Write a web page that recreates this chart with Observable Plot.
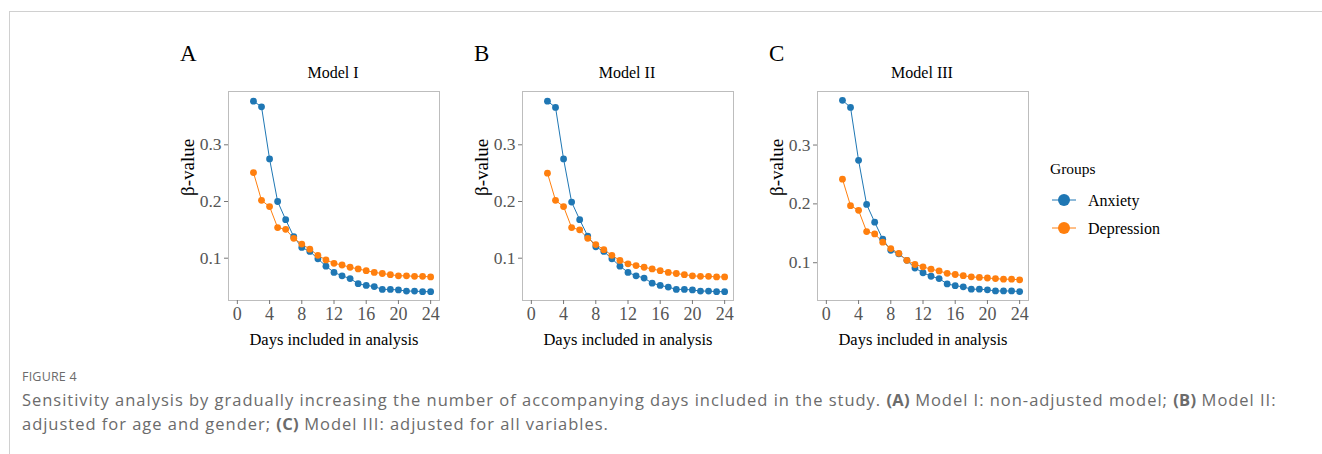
<!DOCTYPE html>
<html>
<head>
<meta charset="utf-8">
<script src="https://cdn.jsdelivr.net/npm/d3@7"></script>
<script src="https://cdn.jsdelivr.net/npm/@observablehq/plot@0.6"></script>
<style>
  html, body { margin: 0; padding: 0; background: #fff; }
  body { width: 1322px; height: 454px; position: relative; overflow: hidden; }
  .border-top { position: absolute; left: 9px; top: 11px; width: 1313px; height: 0; border-top: 1px solid #d0d0d0; }
  .border-left { position: absolute; left: 9px; top: 11px; width: 0; height: 443px; border-left: 1px solid #d0d0d0; }
  .panel { position: absolute; }
  .letter { position: absolute; font-family: "Liberation Serif", "Times New Roman", serif; font-size: 23px; color: #000; }
  .title { position: absolute; font-family: "Liberation Serif", "Times New Roman", serif; font-size: 16px; color: #000; text-align: center; width: 210px; }
  .legend { position: absolute; left: 1048px; top: 158px; font-family: "Liberation Serif", "Times New Roman", serif; color: #000; }
  .caption { position: absolute; left: 22px; top: 368px; font-family: "Open Sans", "Noto Sans", sans-serif; color: #6b6b6b; white-space: nowrap; }
  .fig { font-size: 12.5px; line-height: 18px; letter-spacing: 0.2px; }
  .cap { font-size: 16.5px; line-height: 24px; margin-top: 2px; letter-spacing: 0.98px; }
  .cap b { font-weight: 700; color: #6b6b6b; letter-spacing: 0.3px; }
</style>
</head>
<body>
<div class="border-top"></div>
<div class="border-left"></div>
<div id="root"></div>
<div class="legend" id="legend"></div>
<div class="caption">
  <div class="fig">FIGURE 4</div>
  <div class="cap">Sensitivity analysis by gradually increasing the number of accompanying days included in the study. <b>(A)</b> Model I: non-adjusted model; <b>(B)</b> Model II:<br>adjusted for age and gender; <b>(C)</b> Model III: adjusted for all variables.</div>
</div>
<script>
const days = [2,3,4,5,6,7,8,9,10,11,12,13,14,15,16,17,18,19,20,21,22,23,24];
const groups = ["Anxiety", "Depression"];
const colors = ["#1f77b4", "#ff7f0e"];
const panelLetters = ["A", "B", "C"];
const panelTitles = ["Model I", "Model II", "Model III"];
const xTicks = [0,4,8,12,16,20,24];
const yTicks = [0.1, 0.2, 0.3];

const anxietyA = [0.377,0.367,0.275,0.200,0.168,0.138,0.119,0.112,0.099,0.086,0.075,0.069,0.064,0.055,0.052,0.050,0.045,0.045,0.044,0.042,0.042,0.041,0.041];
const depressionA = [0.251,0.202,0.191,0.154,0.151,0.135,0.125,0.116,0.105,0.097,0.091,0.088,0.084,0.081,0.078,0.075,0.073,0.071,0.069,0.069,0.068,0.068,0.067];
const anxietyB = [0.377,0.366,0.275,0.199,0.168,0.139,0.120,0.112,0.099,0.086,0.075,0.069,0.065,0.056,0.052,0.049,0.045,0.045,0.044,0.042,0.042,0.041,0.041];
const depressionB = [0.250,0.202,0.191,0.154,0.150,0.135,0.124,0.115,0.105,0.096,0.090,0.087,0.084,0.081,0.078,0.075,0.073,0.071,0.069,0.068,0.068,0.067,0.067];
const anxietyC = [0.376,0.364,0.274,0.199,0.169,0.140,0.121,0.115,0.104,0.091,0.083,0.077,0.073,0.064,0.061,0.059,0.055,0.055,0.054,0.052,0.052,0.052,0.051];
const depressionC = [0.242,0.197,0.189,0.153,0.149,0.135,0.124,0.116,0.104,0.097,0.093,0.089,0.086,0.082,0.080,0.078,0.076,0.075,0.074,0.073,0.072,0.072,0.071];

const panels = [
  {anx: anxietyA, dep: depressionA, left: 170, yDomain: [0.0254, 0.394]},
  {anx: anxietyB, dep: depressionB, left: 464, yDomain: [0.0254, 0.394]},
  {anx: anxietyC, dep: depressionC, left: 759, yDomain: [0.0358, 0.391]}
];

const root = document.getElementById("root");
const serif = '"Liberation Serif", "Times New Roman", serif';
const mL = 58, mT = 10, fw = 211, fh = 209, mB = 52, mR = 8;

panels.forEach((p, i) => {
  const rows = [];
  days.forEach((d, j) => {
    rows.push({day: d, value: p.anx[j], group: groups[0]});
    rows.push({day: d, value: p.dep[j], group: groups[1]});
  });
  const chart = Plot.plot({
    width: mL + fw + mR,
    height: mT + fh + mB,
    marginLeft: mL, marginRight: mR, marginTop: mT, marginBottom: mB,
    style: {fontFamily: serif, background: "transparent", overflow: "visible"},
    x: {domain: [-1.1, 25.1]},
    y: {domain: p.yDomain},
    color: {domain: groups, range: colors},
    marks: [
      Plot.frame({stroke: "#bdbdbd"}),
      Plot.axisX({ticks: xTicks, tickSize: 4, tickPadding: 3, stroke: "#777", fill: "#555", fontSize: 18, label: null}),
      Plot.axisY({ticks: yTicks, tickSize: 4, tickPadding: 3, tickFormat: d3.format(".1f"), stroke: "#777", fill: "#555", fontSize: 17.5, label: null}),
      Plot.text(["Days included in analysis"], {frameAnchor: "bottom", dy: 44, fontSize: 16.5, fill: "#000"}),
      Plot.text(["β-value"], {frameAnchor: "left", dx: -41, rotate: -90, fontSize: 19, fill: "#000"}),
      Plot.line(rows, {x: "day", y: "value", stroke: "group", z: "group", strokeWidth: 1}),
      Plot.dot(rows, {x: "day", y: "value", fill: "group", r: 3.4, stroke: "none"})
    ]
  });
  const wrap = document.createElement("div");
  wrap.className = "panel";
  wrap.style.left = p.left + "px";
  wrap.style.top = (91 - mT) + "px";
  wrap.appendChild(chart);
  root.appendChild(wrap);

  const letter = document.createElement("div");
  letter.className = "letter";
  letter.textContent = panelLetters[i];
  letter.style.left = (p.left + 10) + "px";
  letter.style.top = "41px";
  root.appendChild(letter);

  const title = document.createElement("div");
  title.className = "title";
  title.textContent = panelTitles[i];
  title.style.left = (p.left + mL) + "px";
  title.style.top = "64px";
  root.appendChild(title);
});

// legend
const legend = document.getElementById("legend");
const lsvg = d3.create("svg").attr("width", 140).attr("height", 90);
lsvg.append("text").attr("x", 2).attr("y", 16).attr("font-size", 15.5).attr("font-family", serif).attr("fill", "#000").text("Groups");
groups.forEach((g, k) => {
  const y = 42 + k * 28;
  lsvg.append("line").attr("x1", 4).attr("x2", 28).attr("y1", y).attr("y2", y).attr("stroke", colors[k]).attr("stroke-width", 1);
  lsvg.append("circle").attr("cx", 16).attr("cy", y).attr("r", 6).attr("fill", colors[k]);
  lsvg.append("text").attr("x", 40).attr("y", y + 5.5).attr("font-size", 16).attr("font-family", serif).attr("fill", "#000").text(g);
});
legend.appendChild(lsvg.node());
</script>
</body>
</html>
